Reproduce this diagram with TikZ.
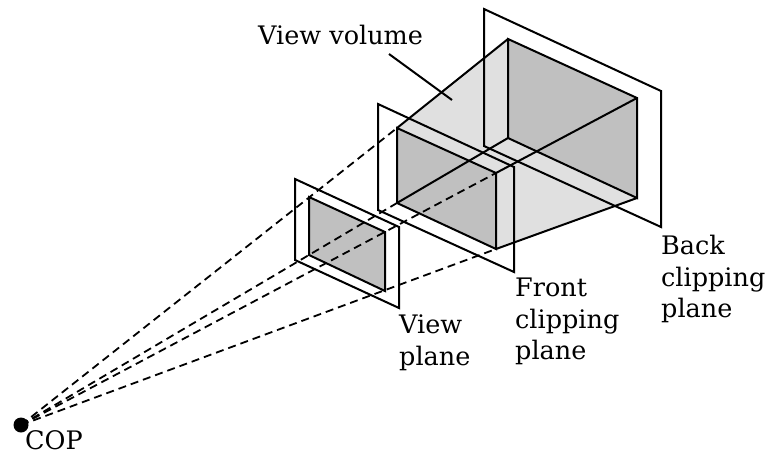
\documentclass[tikz,border=0pt]{standalone}
\usepackage{xcolor}
\usepackage{fontspec}
\setmainfont{DejaVu Serif}
\usepackage{tikz}
\usetikzlibrary{positioning,calc}
\definecolor{wallgray}{HTML}{E0E0E0}
\definecolor{rectgray}{HTML}{C0C0C0}

\begin{document}
\begin{tikzpicture}[
  x=1pt, y=-1pt,
  every node/.style={font=\fontsize{25.5}{31.5}\selectfont, inner sep=0pt},
  edge/.style={draw=black, line width=2pt, line join=miter},
  rect/.style={edge, fill=rectgray},
  wall/.style={fill=wallgray},
  ray/.style={draw=black, line width=1.8pt, dash pattern=on 8pt off 5pt},
  label/.style={anchor=north west, align=left}
]
\useasboundingbox (0,0) rectangle (776,455);

% corners
\coordinate (cop) at (21,425);
\coordinate (vp1) at (295,179);
\coordinate (vp2) at (399,227);
\coordinate (vp3) at (399,308);
\coordinate (vp4) at (295,260);
\coordinate (vr1) at (309,197);
\coordinate (vr2) at (385,232);
\coordinate (vr3) at (385,291);
\coordinate (vr4) at (309,255);
\coordinate (fp1) at (378,104);
\coordinate (fp2) at (514,167);
\coordinate (fp3) at (514,272);
\coordinate (fp4) at (378,210);
\coordinate (fr1) at (397,128);
\coordinate (fr2) at (496,173);
\coordinate (fr3) at (496,249);
\coordinate (fr4) at (397,203);
\coordinate (bp1) at (484,9);
\coordinate (bp2) at (661,91);
\coordinate (bp3) at (661,227);
\coordinate (bp4) at (484,146);
\coordinate (br1) at (508,39);
\coordinate (br2) at (637,98);
\coordinate (br3) at (637,198);
\coordinate (br4) at (508,138);
\coordinate (leadA) at (389,54);
\coordinate (leadB) at (452,100);

% volume
\fill[wall] (fr1) -- (br1) -- (br2) -- (br3) -- (fr3) -- (fr4) -- cycle;
\draw[rect] (br1) -- (br2) -- (br3) -- (br4) -- cycle;
\draw[rect] (fr1) -- (fr2) -- (fr3) -- (fr4) -- cycle;
\draw[edge] (fr1) -- (br1);
\draw[edge] (fr2) -- (br2);
\draw[edge] (fr3) -- (br3);
\draw[edge] (fr4) -- (br4);

% planes
\draw[edge] (bp1) -- (bp2) -- (bp3) -- (bp4) -- cycle;
\draw[edge] (fp1) -- (fp2) -- (fp3) -- (fp4) -- cycle;
\draw[rect] (vr1) -- (vr2) -- (vr3) -- (vr4) -- cycle;
\draw[edge] (vp1) -- (vp2) -- (vp3) -- (vp4) -- cycle;

% rays
\draw[ray] (cop) -- (fr1);
\draw[ray] (cop) -- (fr2);
\draw[ray] (cop) -- (fr3);
\draw[ray] (cop) -- (fr4);
\fill (cop) circle (7.5);

\draw[edge] (leadA) -- (leadB);

\node[label] (volume) at (258,25) {View volume};
\node[label] (back) at (661,235) {Back\\clipping\\plane};
\node[label] (front) at (515,278) {Front\\clipping\\plane};
\node[label] (view) at (399,315) {View\\plane};
\node[anchor=base west] (coplabel) at (25,449) {COP};
\end{tikzpicture}
\end{document}
